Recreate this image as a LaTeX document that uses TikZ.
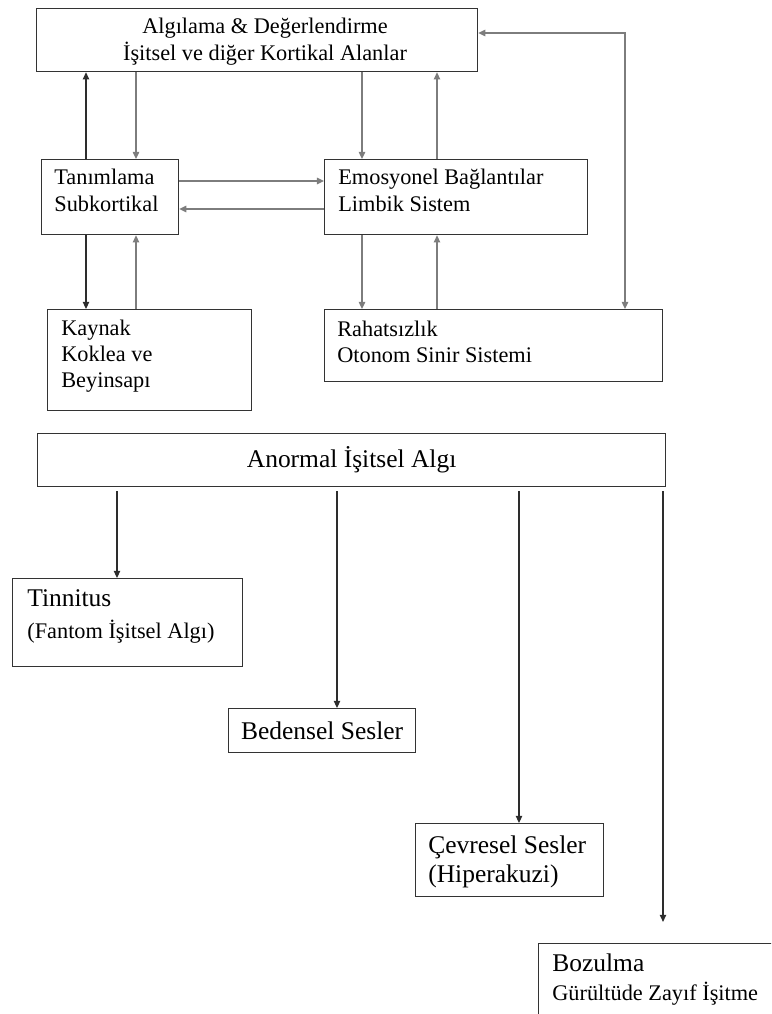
\documentclass[tikz,border=0pt]{standalone}
\usepackage{fontspec}
\setmainfont{Liberation Serif}
\usetikzlibrary{arrows.meta,calc,positioning}
\definecolor{cerceve}{RGB}{51,51,51}
\definecolor{gri}{RGB}{125,125,125}
\definecolor{koyu}{RGB}{45,45,45}
\newcommand{\kucuk}{\fontsize{12.7}{14.8}\selectfont}
\newcommand{\buyuk}{\fontsize{14.5}{16.5}\selectfont}

\begin{document}
\begin{tikzpicture}[x=0.02cm,y=-0.02cm,>={Triangle[length=4pt,width=3.6pt]},
  kutu/.style={draw=cerceve,line width=0.75pt,inner sep=0pt,anchor=north west},
  yazi/.style={anchor=base west,align=left,inner sep=0pt,font=\kucuk},
  ok/.style={->,koyu,line width=0.6pt},
  okgri/.style={->,gri,line width=0.8pt}]
  \useasboundingbox (0,0) rectangle (771,1014);
  \clip (0,0) rectangle (771,1014);
  % kutular
  \node[kutu,minimum width=8.82cm,minimum height=1.26cm] (ust) at (36,8) {};
  \node[kutu,minimum width=2.74cm,minimum height=1.5cm] (tan) at (41,159) {};
  \node[kutu,minimum width=5.26cm,minimum height=1.5cm] (emo) at (324,159) {};
  \node[kutu,minimum width=4.08cm,minimum height=2.02cm] (kay) at (47,309) {};
  \node[kutu,minimum width=6.76cm,minimum height=1.44cm] (rah) at (324,309) {};
  \node[kutu,minimum width=12.56cm,minimum height=1.06cm,font=\buyuk] (ano) at (37,433) {Anormal İşitsel Algı};
  \node[kutu,minimum width=4.6cm,minimum height=1.76cm] (tin) at (12,578) {};
  \node[kutu,minimum width=3.74cm,minimum height=0.88cm,font=\buyuk] (bed) at (228,708) {Bedensel Sesler};
  \node[kutu,minimum width=3.76cm,minimum height=1.46cm] (cev) at (415,823) {};
  \node[kutu,minimum width=5.24cm,minimum height=2.14cm] (boz) at (538,943) {};
  % yazilar (son satirin taban cizgisi)
  \node[yazi,align=center,anchor=base] (ust-y) at (265,60) {Algılama \& Değerlendirme\\İşitsel ve diğer Kortikal Alanlar};
  \node[yazi] (tan-y) at (54,211) {Tanımlama\\Subkortikal};
  \node[yazi] (emo-y) at (338,211) {Emosyonel Bağlantılar\\Limbik Sistem};
  \node[yazi] (kay-y) at (61,387) {Kaynak\\Koklea ve\\Beyinsapı};
  \node[yazi] (rah-y) at (337,362) {Rahatsızlık\\Otonom Sinir Sistemi};
  \node[yazi,font=\buyuk] (tin-y) at (27,638) {Tinnitus\\[1.5pt]{\kucuk(Fantom İşitsel Algı)}};
  \node[yazi,font=\buyuk] (cev-y) at (428,882) {Çevresel Sesler\\(Hiperakuzi)};
  \node[yazi,font=\buyuk] (boz-y) at (552,1000) {Bozulma\\{\kucuk Gürültüde Zayıf İşitme}};
  % ust kutu ile baglantilar
  \draw[ok] (tan.north -| 86,0) -- (ust.south -| 86,0);
  \draw[okgri] (ust.south -| 136,0) -- (tan.north -| 136,0);
  \draw[okgri] (ust.south -| 362,0) -- (emo.north -| 362,0);
  \draw[okgri] (emo.north -| 437,0) -- (ust.south -| 437,0);
  % tanimlama <-> emosyonel
  \draw[okgri,line width=1.1pt] (tan.east |- 0,181) -- (emo.west |- 0,181);
  \draw[okgri,line width=1.1pt] (emo.west |- 0,209) -- (tan.east |- 0,209);
  % alt kutular
  \draw[ok] (tan.south -| 86,0) -- (kay.north -| 86,0);
  \draw[okgri] (kay.north -| 136,0) -- (tan.south -| 136,0);
  \draw[okgri] (emo.south -| 362,0) -- (rah.north -| 362,0);
  \draw[okgri] (rah.north -| 437,0) -- (emo.south -| 437,0);
  % geri besleme
  \draw[okgri,<->] (ust.east |- 0,33) -| (rah.north -| 625,0);
  % anormal isitsel algi
  \foreach \x/\n in {117/tin,337/bed,519/cev}
    \draw[ok,shorten <=2.3pt] (ano.south -| \x,0) -- (\n.north -| \x,0);
  \draw[ok,shorten <=2.3pt,shorten >=12pt] (ano.south -| 663,0) -- (boz.north -| 663,0);
\end{tikzpicture}
\end{document}
